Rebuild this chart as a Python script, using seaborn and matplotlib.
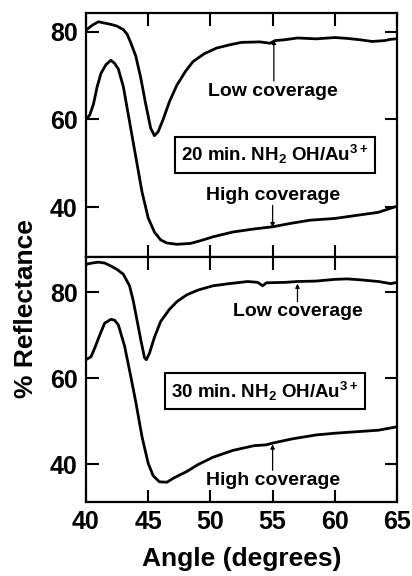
import matplotlib
matplotlib.use("Agg")
import matplotlib.pyplot as plt
import seaborn as sns
import pandas as pd

# ---------------- data ----------------
top_low_x = [40, 40.5, 41, 41.5, 42, 42.5, 43, 43.3, 43.6, 44, 44.4, 44.8, 45.2, 45.5, 45.8, 46.2,
             46.7, 47.3, 48, 48.6, 49.5, 50.5, 51.5, 52.5, 54, 54.8, 55.2, 56, 57, 58.5, 60, 61,
             62, 63, 64, 64.5, 65]
top_low_y = [80.4, 81.5, 82.3, 82.0, 81.7, 81.3, 80.5, 79.5, 77.5, 74.5, 69.5, 63.5, 58.0, 56.3, 57.2, 60.0,
             64.0, 67.8, 71.0, 73.2, 75.0, 76.3, 77.0, 77.6, 77.7, 77.4, 78.0, 78.2, 78.6, 78.4, 78.7, 78.5,
             78.2, 77.8, 78.0, 78.3, 78.4]

top_high_x = [40, 40.3, 40.6, 40.9, 41.2, 41.6, 42.0, 42.3, 42.6, 43.0, 43.5, 44.0, 44.5, 45.0, 45.5,
              46.0, 46.5, 47.3, 48.4, 49.3, 50.2, 51.8, 53.5, 55, 56.5, 58, 60, 62, 63.5, 65]
top_high_y = [60.0, 61.0, 63.5, 67.5, 70.5, 72.5, 73.5, 72.8, 71.5, 67.5, 59.5, 51.5, 43.5, 37.5, 34.3,
              32.5, 31.8, 31.5, 31.7, 32.4, 33.2, 34.3, 35.0, 35.5, 36.3, 37.0, 37.4, 38.2, 38.8, 40.2]

bot_low_x = [40, 40.5, 41, 41.5, 42, 42.5, 43, 43.5, 43.8, 44.1, 44.4, 44.7, 44.85, 45.1, 45.5, 46.0,
             46.7, 47.3, 48.1, 49, 50.2, 51.5, 53, 53.8, 54.2, 54.5, 56, 57, 58.5, 60, 61, 62,
             63.5, 64.5, 65]
bot_low_y = [86.5, 86.8, 87.0, 86.8, 86.1, 85.3, 84.2, 81.5, 78.0, 73.5, 69.0, 64.8, 64.3, 65.8, 69.5, 73.2,
             76.0, 77.8, 79.4, 80.5, 81.5, 82.0, 82.5, 82.3, 81.5, 82.2, 82.3, 82.5, 82.6, 83.0, 83.1, 82.9,
             82.5, 82.0, 82.3]

bot_high_x = [40, 40.4, 40.7, 41.1, 41.5, 42.0, 42.3, 42.6, 43.1, 43.6, 44.0, 44.5, 45.0, 45.4, 45.9,
              46.5, 47.0, 48.1, 49.0, 50.2, 51.8, 53.5, 54.5, 55, 56.6, 58.5, 60, 62, 63.5, 65]
bot_high_y = [64.3, 65.0, 67.0, 70.0, 72.8, 73.7, 73.5, 72.4, 67.5, 60.4, 54.5, 46.4, 40.2, 37.3, 35.9,
              35.8, 36.7, 38.3, 39.9, 41.6, 43.2, 44.3, 44.5, 44.9, 45.9, 46.8, 47.2, 47.6, 47.9, 48.7]

x_ticks = [40, 45, 50, 55, 60, 65]
y_ticks = [40, 60, 80]
box_labels = [r"20 min. NH$_2$ OH/Au$^{3+}$", r"30 min. NH$_2$ OH/Au$^{3+}$"]
curve_labels = ["Low coverage", "High coverage"]

# ---------------- style ----------------
sns.set_style("ticks")
plt.rcParams["font.family"] = ["Liberation Sans", "DejaVu Sans"]
plt.rcParams["font.weight"] = "bold"
plt.rcParams["text.color"] = "black"
plt.rcParams["axes.edgecolor"] = "black"
plt.rcParams["xtick.color"] = "black"
plt.rcParams["ytick.color"] = "black"
plt.rcParams["axes.labelcolor"] = "black"
plt.rcParams["mathtext.fontset"] = "custom"
plt.rcParams["mathtext.rm"] = "Liberation Sans:bold"
plt.rcParams["mathtext.it"] = "Liberation Sans:bold"
plt.rcParams["mathtext.bf"] = "Liberation Sans:bold"
plt.rcParams["mathtext.default"] = "rm"

fig = plt.figure(figsize=(4.12, 5.76), dpi=100)
L, R = 86 / 412, 397 / 412
y_top, y_mid, y_bot = 1 - 13 / 576, 1 - 257 / 576, 1 - 502 / 576
ax1 = fig.add_axes([L, y_mid, R - L, y_top - y_mid])
ax2 = fig.add_axes([L, y_bot, R - L, y_mid - y_bot])

def draw(ax, lx, ly, hx, hy):
    d1 = pd.DataFrame({"x": lx, "y": ly})
    d2 = pd.DataFrame({"x": hx, "y": hy})
    sns.lineplot(data=d1, x="x", y="y", ax=ax, color="black", lw=2.0, sort=False)
    sns.lineplot(data=d2, x="x", y="y", ax=ax, color="black", lw=2.0, sort=False)

draw(ax1, top_low_x, top_low_y, top_high_x, top_high_y)
draw(ax2, bot_low_x, bot_low_y, bot_high_x, bot_high_y)

ax1.set_ylim(28.6, 84.3)
ax2.set_ylim(31.2, 88.2)
for ax in (ax1, ax2):
    ax.set_xlim(40, 65)
    ax.set_xticks(x_ticks)
    ax.set_yticks(y_ticks)
    ax.tick_params(direction="in", length=9, width=1.5, top=True, right=True,
                   labelsize=18, pad=6, colors="black")
    for s in ax.spines.values():
        s.set_linewidth(1.6)
        s.set_color("black")
    ax.set_xlabel("")
    ax.set_ylabel("")
ax1.tick_params(labelbottom=False)
ax2.set_xticklabels([str(t) for t in x_ticks])
ax2.set_xlabel("Angle (degrees)", fontsize=19, fontweight="bold", labelpad=9, color="black")
fig.text(0.063, 0.464, "% Reflectance", rotation=90, ha="center", va="center",
         fontsize=19, fontweight="bold", color="black")

box = dict(boxstyle="square,pad=0.35", fc="white", ec="black", lw=1.5)
ax1.text(55.2, 51.9, box_labels[0], ha="center", va="center", fontsize=13.5, bbox=box)
ax2.text(54.4, 57.0, box_labels[1], ha="center", va="center", fontsize=13.5, bbox=box)

arrow = dict(arrowstyle="-|>", lw=0.9, color="black", mutation_scale=6, shrinkA=0, shrinkB=0)
ax1.text(55.0, 66.3, curve_labels[0], ha="center", va="center", fontsize=14)
ax1.annotate("", xy=(55.1, 78.2), xytext=(55.1, 68.8), arrowprops=arrow)
ax1.text(55.0, 42.7, curve_labels[1], ha="center", va="center", fontsize=14)
ax1.annotate("", xy=(55.0, 35.4), xytext=(55.0, 40.4), arrowprops=arrow)

ax2.text(57.0, 75.5, curve_labels[0], ha="center", va="center", fontsize=14)
ax2.annotate("", xy=(57.0, 82.0), xytext=(57.0, 77.8), arrowprops=arrow)
ax2.text(55.0, 36.3, curve_labels[1], ha="center", va="center", fontsize=14)
ax2.annotate("", xy=(55.0, 44.6), xytext=(55.0, 38.6), arrowprops=arrow)

fig.savefig("out.png", dpi=100)
